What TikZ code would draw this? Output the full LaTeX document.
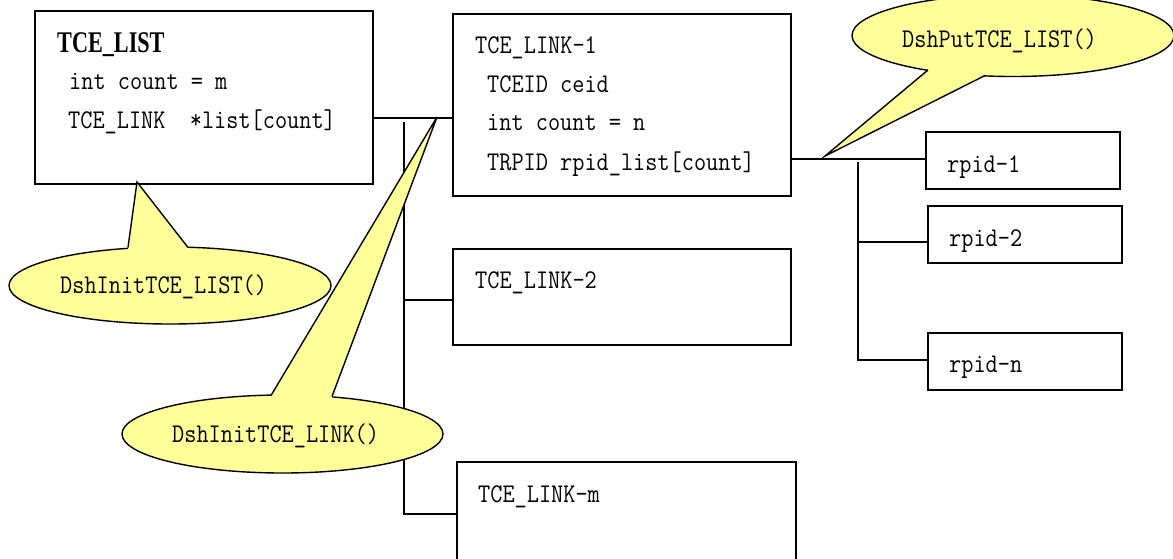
\documentclass[tikz,border=0pt]{standalone}
\usepackage{fontspec}
\usetikzlibrary{shapes.geometric}
\newfontfamily\headfont[FakeStretch=0.74]{Liberation Serif}
\definecolor{notefill}{HTML}{FFFF99}
% narrow typewriter text used for all field and function names
\newcommand\narrowtt[1]{\scalebox{0.875}[1]{#1}}
\begin{document}
\begin{tikzpicture}[x=1pt,y=-1pt,
  box/.style={draw=black, line width=1.5pt, rectangle, inner sep=0pt},
  wire/.style={draw=black, line width=1.5pt},
  code/.style={inner sep=0pt, anchor=base west,
    font=\ttfamily\fontsize{27}{27}\selectfont},
  head/.style={inner sep=0pt, anchor=base west, font=\headfont\bfseries\fontsize{30}{30}\selectfont},
  bubble/.style={ellipse, draw=black, fill=notefill, line width=1.4pt, inner sep=0pt},
  pointer/.style={draw=black, line width=1.4pt, line join=miter},
]
\fill[white] (0,0) rectangle (1173,558);
\useasboundingbox (0,0) rectangle (1173,558);
\clip (0,0) rectangle (1173,558);

% ---- structure boxes ----
\node[box, minimum width=338pt, minimum height=173pt] (list)  at (204,97.5) {};
\node[box, minimum width=338pt, minimum height=182pt] (link1) at (622,105) {};
\node[box, minimum width=338pt, minimum height=96pt]  (link2) at (622,297) {};
\node[box, minimum width=339pt, minimum height=138pt] (linkm) at (626.5,531) {};
\node[box, minimum width=194pt, minimum height=57pt]  (rpid1) at (1023,160.5) {};
\node[box, minimum width=194pt, minimum height=57pt]  (rpid2) at (1025,234.5) {};
\node[box, minimum width=194pt, minimum height=57pt]  (rpidn) at (1025,361.5) {};

% ---- box contents ----
\node[head] (listhead) at (57,52) {TCE\_LIST};
\node[code] (listcnt)  at (69,89) {\narrowtt{int count = m}};
\node[code] (listarr)  at (68,128) {\narrowtt{TCE\_LINK\ \ *list[count]}};

\node[code] (l1head) at (475,53)  {\narrowtt{TCE\_LINK-1}};
\node[code] (l1id)   at (487,92)  {\narrowtt{TCEID ceid}};
\node[code] (l1cnt)  at (487,130) {\narrowtt{int count = n}};
\node[code] (l1arr)  at (487,170) {\narrowtt{TRPID rpid\_list[count]}};

\node[code] (l2head) at (475,288) {\narrowtt{TCE\_LINK-2}};
\node[code] (lmhead) at (478,502) {\narrowtt{TCE\_LINK-m}};

\node[code] (r1txt) at (947,172) {\narrowtt{rpid-1}};
\node[code] (r2txt) at (949,246) {\narrowtt{rpid-2}};
\node[code] (rntxt) at (949,372) {\narrowtt{rpid-n}};

% ---- wiring: list to its links ----
\coordinate (rowA)  at (0,118);
\coordinate (rowA2) at (0,300);
\coordinate (busA)  at (404,122);
\coordinate (busAend) at (404,514);
\draw[wire] (list.east |- rowA) -- (link1.west |- rowA);
\draw[wire] (busA) -- (busAend) -- (linkm.west |- busAend);
\draw[wire] (busA |- rowA2) -- (link2.west |- rowA2);

% ---- wiring: link-1 to its rpids ----
\coordinate (rowB)  at (0,159);
\coordinate (rowB2) at (0,242);
\coordinate (busB)  at (858,162);
\coordinate (busBend) at (858,360);
\draw[wire] (link1.east |- rowB) -- (rpid1.west |- rowB);
\draw[wire] (busB) -- (busBend) -- (rpidn.west |- busBend);
\draw[wire] (busB |- rowB2) -- (rpid2.west |- rowB2);

% ---- callouts ----
% DshInitTCE_LIST()
\node[bubble, minimum width=322pt, minimum height=77pt] (noteA) at (170,285.5) {};
\coordinate (tipA) at (137,182);
\fill[notefill] (tipA) -- (128,247) -- (128,254) -- (188,254) -- (188,247) -- cycle;
\draw[pointer] (128,247.5) -- (tipA) -- (188,247.5);
\node[code] (noteAtxt) at (60,293) {\narrowtt{DshInitTCE\_LIST()}};

% DshInitTCE_LINK()
\node[bubble, minimum width=321pt, minimum height=78pt] (noteB) at (282.5,434) {};
\coordinate (tipB) at (437,117);
\fill[notefill] (tipB) -- (271,395) -- (271,402) -- (332,402) -- (332,396) -- cycle;
\draw[pointer] (271,395.5) -- (tipB) -- (332,396.5);
\node[code] (noteBtxt) at (172,442) {\narrowtt{DshInitTCE\_LINK()}};

% DshPutTCE_LIST()
\node[bubble, minimum width=322pt, minimum height=82pt] (noteC) at (1013,35.5) {};
\coordinate (tipC) at (825,156);
\fill[notefill] (tipC) -- (928,70) -- (928,63) -- (985,68) -- (985,75) -- cycle;
\draw[pointer] (928,70) -- (tipC) -- (985,75.5);
\node[code] (noteCtxt) at (902,47) {\narrowtt{DshPutTCE\_LIST()}};
\end{tikzpicture}
\end{document}
